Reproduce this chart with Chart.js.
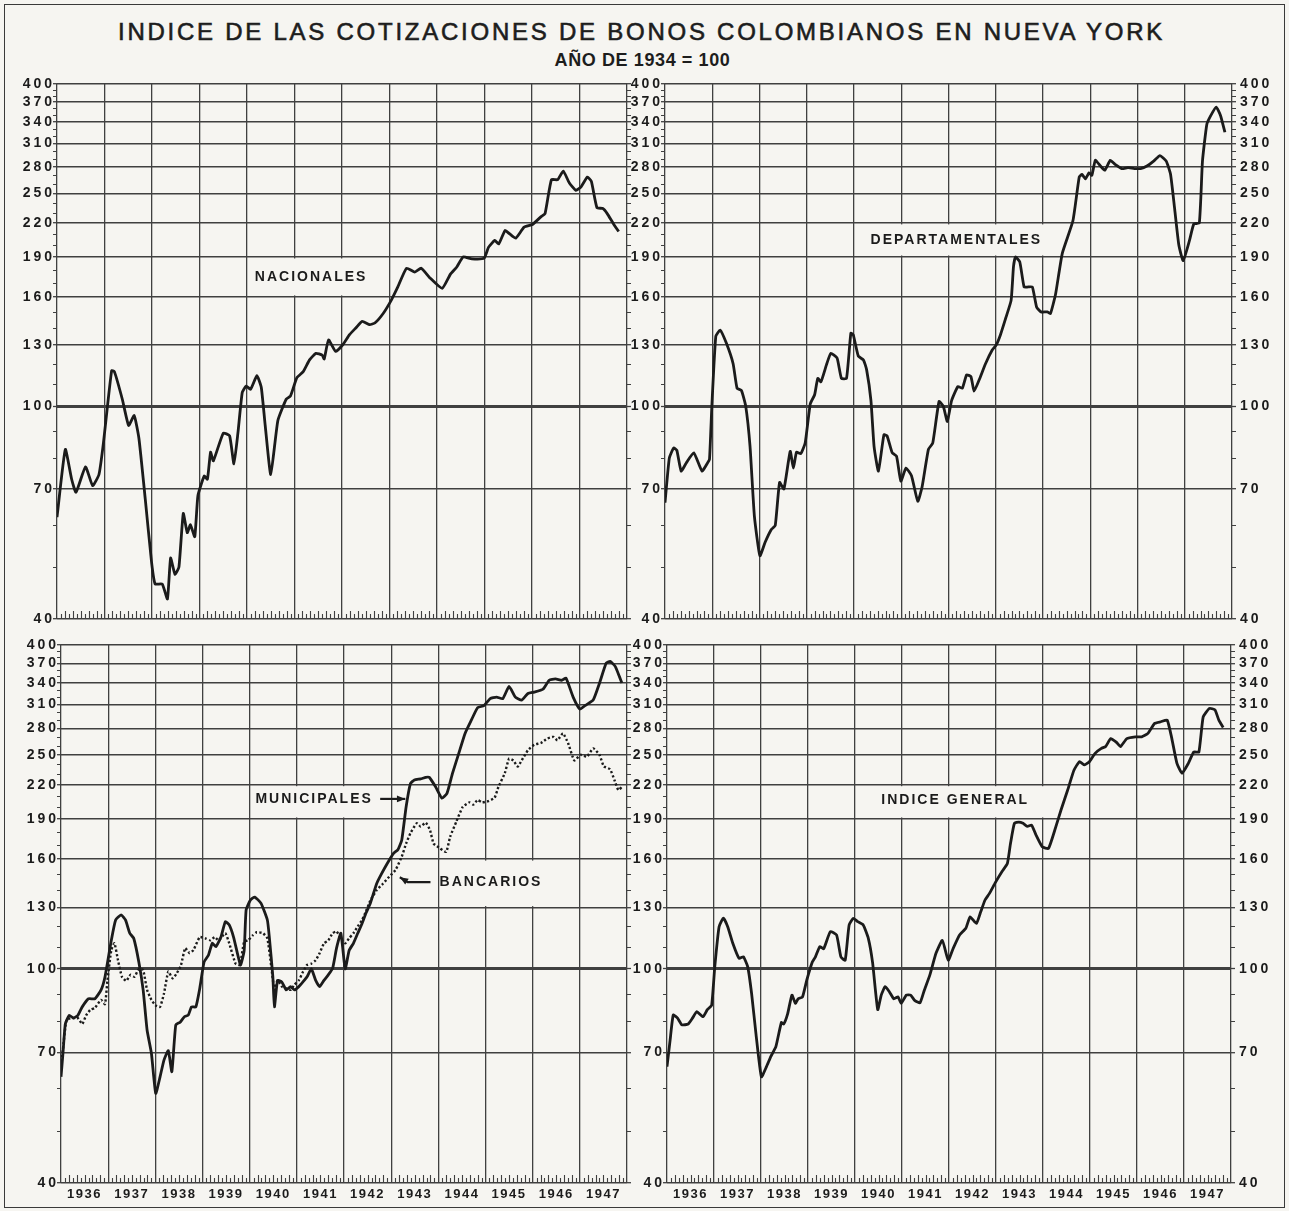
<!DOCTYPE html>
<html lang="es">
<head>
<meta charset="utf-8">
<title>Indice de las cotizaciones de bonos colombianos en Nueva York</title>
<script src="https://cdn.jsdelivr.net/npm/chart.js@4.4.1/dist/chart.umd.min.js"></script>
<style>
  html, body { margin: 0; padding: 0; background: #f6f5f1; }
  #page { position: relative; width: 1289px; height: 1211px; overflow: hidden; font-family: "Liberation Sans", Arial, sans-serif; color: #1d1d1d; }
  #frame { position: absolute; left: 4px; top: 4px; width: 1281px; height: 1204px; border: 1.5px solid #3a3a3a; box-sizing: border-box; }
  #title { position: absolute; left: 0; top: 20px; width: 1283px; text-align: center; font-size: 24px; line-height: 24px; letter-spacing: 2.75px; white-space: nowrap; -webkit-text-stroke: 0.6px #1d1d1d; }
  #subtitle { position: absolute; left: 0; top: 51px; width: 1285px; text-align: center; font-size: 18px; line-height: 18px; font-weight: bold; letter-spacing: 0.6px; white-space: nowrap; }
  canvas { position: absolute; }
</style>
</head>
<body>
<div id="page">
  <div id="frame"></div>
  <div id="title">INDICE DE LAS COTIZACIONES DE BONOS COLOMBIANOS EN NUEVA YORK</div>
  <div id="subtitle">AÑO DE 1934 = 100</div>
  <canvas id="nacChart"></canvas>
  <canvas id="depChart"></canvas>
  <canvas id="munChart"></canvas>
  <canvas id="genChart"></canvas>
</div>
<script>
  const INK = '#1b1b1b';
  const GRID = '#404040';
  const PAPER = '#f6f5f1';

  // log axis, 1934 = 100
  const yTicks = [40, 70, 100, 130, 160, 190, 220, 250, 280, 310, 340, 370, 400];
  const yMinor = [50, 60, 80, 90, 110, 120, 140, 150, 170, 180, 200, 210, 230, 240, 260, 270, 290, 300, 320, 330, 350, 360, 380, 390];
  const yearLabels = ['1936', '1937', '1938', '1939', '1940', '1941', '1942', '1943', '1944', '1945', '1946', '1947'];
  const monthCount = 144; // Jan 1936 .. Dec 1947, x = months since Jan 1936

  // NACIONALES
  const nacMonths = [0, 2.1, 3.7, 4.8, 7.2, 9, 10.6, 11.7, 13.8, 14.5, 16.5, 18.1, 19.5, 20.7, 22.3, 23.9, 24.8, 26.6, 27.9, 28.7,
    29.8, 30.8, 31.9, 32.9, 33.7, 34.8, 35.6, 37.2, 38, 38.8, 39.5, 42, 43.6, 44.7, 45.7, 46.8, 47.8, 48.9, 50.5, 51.6,
    52.6, 54, 55.8, 57.9, 59, 60.6, 62.2, 63.8, 65.4, 67, 67.5, 68.6, 70.4, 72.3, 73.9, 75.5, 77.1, 79, 80.3, 82.4,
    84.5, 86.1, 88.3, 90.4, 92, 94.1, 97.3, 99.4, 101, 102.6, 104.8, 107.9, 109, 110.6, 111.6, 113.2, 114.3, 115.9, 118, 120.1,
    122.3, 123.3, 124.9, 126.5, 127.9, 129.4, 131.1, 132.4, 134, 135, 136.4, 137.9, 139, 140.6, 141.9];
  const nacValues = [62, 83, 73, 69, 77, 71, 74.5, 85, 116.5, 116, 103, 92, 96, 87, 67, 51, 46.5, 46.5, 43.6, 52,
    48.5, 50, 63, 58, 60, 57, 68, 74, 73, 82, 79, 89, 88, 78, 89, 106, 109, 107.5, 114, 108.5,
    92, 74.5, 94, 103, 104.5, 113, 116, 122, 125.5, 124.5, 122.5, 133, 126.5, 130.5, 136, 140, 144, 142, 143, 149,
    158, 167, 181, 178, 181, 174, 166, 176.5, 182, 190, 188.5, 189, 198, 204, 201, 213, 210, 206, 216, 218.5,
    226, 229, 265, 265, 275, 261.5, 253, 257, 268, 263, 235, 234, 229, 219, 212];

  // DEPARTAMENTALES
  const depMonths = [0, 1.1, 2.2, 3, 4.1, 5.4, 7.3, 9.4, 10.8, 11.3, 11.9, 12.9, 14, 15.6, 17.3, 18.3, 19.4, 20.5, 21.6, 22.7,
    24.1, 25.4, 27, 28, 29.1, 30.2, 31.8, 32.6, 33.4, 34.5, 35.6, 36.9, 38, 38.8, 39.6, 41, 42.1, 43.7, 44.8, 46.1,
    47.2, 47.8, 49.1, 50.4, 51.2, 52.3, 53.1, 54.2, 55.6, 56.4, 57.7, 58.8, 59.9, 61.2, 62.6, 64.2, 65.3, 66.9, 68, 69.6,
    70.7, 71.7, 72.8, 74.4, 75.5, 76.6, 77.7, 78.5, 79.8, 81.4, 83.1, 84.1, 85.2, 86.5, 87.9, 88.5, 89, 90.1, 91.2, 92.2,
    93.3, 94.4, 95.5, 97.1, 97.9, 99.2, 100.9, 103.6, 105.2, 105.9, 106.8, 107.7, 108.4, 109.3, 110.6, 111.7, 113.1, 114.3, 116, 117.6,
    119.2, 120.8, 122.4, 124.1, 125.7, 127.3, 128.4, 129.4, 130.5, 131.6, 133.2, 134.3, 135.7, 136.5, 137.6, 138.6, 140, 141.1, 142.2];
  const depValues = [66, 80, 83.5, 82.7, 75.6, 78.3, 81.8, 75.6, 78.3, 79.5, 100, 135, 138.7, 131, 120, 108, 107, 100, 84, 62.3,
    52.5, 55.6, 58.8, 59.8, 72, 70, 82.3, 76.6, 82, 81.5, 85.3, 101, 105, 112.7, 111, 119.4, 125.5, 123, 112.7, 112.7,
    136.8, 136, 124, 122, 117, 102.5, 84, 75.6, 88.4, 88, 81.8, 80.6, 72.4, 76.6, 74.1, 66.4, 70.7, 83, 85.3, 102,
    99.8, 93.6, 102.5, 108.8, 108, 114.4, 113.5, 106.6, 112, 120, 127.3, 130, 136, 145.8, 157.6, 182, 190, 186, 167, 167,
    167, 153, 150, 150, 149, 162, 193, 222, 268, 271, 266, 273, 270, 288, 281, 276, 288, 283, 278, 279,
    278, 278, 281, 287, 294, 287, 271, 235, 200, 187, 204, 219, 220, 287, 336, 349, 362, 349, 325];

  // MUNICIPALES
  const munMonths = [0, 0.5, 1.1, 2.1, 3.2, 4.3, 5.4, 7, 8.6, 10.2, 11.2, 12.8, 13.9, 15.3, 16.4, 17.5, 18.5, 19.8, 20.9, 21.9,
    23, 24.1, 25.2, 26.2, 27.3, 28.2, 29.2, 30.3, 31.4, 32.4, 33.2, 34.3, 35.3, 36.4, 37.5, 38.5, 39.4, 40.7, 41.8, 42.8,
    43.9, 45, 45.7, 46.6, 47.1, 48.2, 49.3, 50.9, 52.5, 53, 53.9, 54.3, 55.1, 56.2, 57.3, 58.4, 59.4, 60.5, 61.6, 62.6,
    63.7, 64.8, 65.8, 66.9, 68, 69.1, 70.1, 71.2, 72.3, 73.3, 74.4, 75.5, 76.6, 77.6, 78.7, 80.3, 81.4, 83, 84.6, 85.7,
    86.7, 87.8, 88.9, 89.9, 91.5, 92.8, 93.7, 95.3, 96.9, 98.2, 99.6, 101.2, 102.8, 104.4, 106, 107.6, 109.2, 110.8, 112.4, 114,
    115.6, 117.2, 118.8, 120.4, 122.6, 124.2, 125.8, 127.4, 128.5, 130.3, 132, 133.3, 135.4, 137, 138.7, 139.7, 141, 142.1, 142.7];
  const munValues = [63, 69.7, 79, 82, 81, 82, 85, 88, 88, 91.4, 96.7, 113, 123.3, 126, 123.3, 116.5, 114, 103, 91.4, 77,
    69.7, 58.7, 63, 67.7, 70.5, 64.4, 78.7, 79.6, 81.5, 82.1, 85, 85, 92, 103, 106, 111.6, 110, 114.6, 122.4, 120.7,
    114.6, 106, 101.7, 108.2, 128.7, 134.3, 136, 132.4, 123.3, 114.6, 96.7, 85, 95.2, 94.5, 91.4, 92.7, 91.4, 92.7, 94.7, 96.7,
    100, 95.2, 92.7, 95.2, 97.5, 100.2, 109.3, 116.5, 100, 108.2, 111.6, 116.5, 121.5, 127, 132.4, 144, 149.5, 157, 164, 166.5,
    173.7, 200, 221, 224.5, 225.5, 227, 227, 218, 207.6, 212, 231, 251.6, 274, 290, 306, 308.5, 318, 320, 318, 335,
    320, 316, 325, 327, 331, 344, 346, 344, 347, 320, 304, 308.5, 316, 339.6, 370, 373, 365, 349, 340];

  // BANCARIOS
  const banMonths = [0, 0.5, 1.4, 2.7, 4.3, 5.4, 6.4, 7.5, 8.6, 10.2, 11.2, 11.8, 12.8, 13.6, 14.5, 15.5, 16.6, 17.7, 18.7, 19.8, 20.9,
    21.9, 23, 24.1, 25.2, 26.2, 27.3, 28.4, 29.4, 30.5, 31.6, 32.7, 33.7, 35.3, 36.7, 38, 39.1, 40.1, 41.8, 42.8, 44.4,
    45.5, 46.6, 47.6, 48.7, 49.8, 51.4, 52.5, 53.5, 54.3, 55.1, 56.2, 57.3, 58.4, 59.4, 60.5, 61.6, 62.6, 63.7, 64.8, 65.8,
    66.9, 68, 69.1, 70.1, 71.2, 72.3, 73.3, 74.4, 75.5, 76.6, 77.6, 78.7, 80.3, 81.9, 83.5, 85.1, 86.7, 87.8, 88.9, 90.5,
    91.5, 92.8, 93.9, 94.8, 96.4, 98, 99, 100.6, 102.2, 103.9, 104.9, 106, 107.1, 108.7, 110.3, 111.3, 112.9, 114, 115.1, 116.2,
    117.2, 118.8, 120.4, 122.1, 123.7, 125.3, 126.3, 127.7, 129, 130.6, 132.2, 133.8, 135.4, 137, 138.1, 139.7, 140.8, 141.8, 142.7];
  const banValues = [66, 71, 80.4, 81, 81, 79, 82, 84, 84.6, 87.6, 86, 95, 108.4, 111.6, 103.8, 96.7, 95, 97.5, 96.7, 100, 99.5,
    91.4, 87.6, 85.5, 85, 90, 98.9, 96, 98, 101.5, 109.3, 107, 108.4, 114.6, 114, 113, 114.6, 113, 116.5, 111.6, 102.3,
    101.7, 112.4, 113, 115.3, 117, 116.5, 114, 101, 91.4, 95.2, 92.7, 92, 91.4, 93.5, 95.2, 98.9, 101.7, 102.3, 103.8, 107,
    111.6, 113, 116.5, 117.4, 114, 111.6, 114, 116.5, 120, 123.3, 128, 134, 140, 144, 148.4, 152.7, 161.7, 171, 178.7, 186.5,
    184, 187, 181, 171, 167.6, 165, 176, 188, 200, 204, 202, 206, 204, 205, 208, 218, 231, 246, 244, 237.7,
    244, 255, 261, 263, 268, 270, 266, 274, 263, 244, 250, 248, 257, 250, 238, 235, 224.5, 215, 218];

  // INDICE GENERAL
  const genMonths = [0, 0.8, 1.6, 2.7, 3.8, 5.4, 6.5, 7.6, 9.2, 10.3, 11.4, 12.2, 13.3, 14.4, 15.5, 16.8, 18.4, 19.5, 20.6, 21.6,
    22.7, 24.1, 25.4, 26.5, 27.8, 29.2, 29.8, 30.8, 31.9, 32.8, 33.5, 34.6, 35.7, 37.1, 37.9, 39, 40, 41.7, 43.3, 44.4,
    45.5, 46.5, 47.6, 48.7, 50.1, 51.4, 52.5, 53.8, 54.7, 55.7, 56.8, 57.9, 59, 59.8, 61.1, 62.2, 63.3, 64.6, 65.7, 67.1,
    68.7, 70.3, 71.8, 73.1, 74.7, 76.3, 77.4, 79, 80.1, 81.2, 82.3, 83.9, 85.5, 86.9, 87.7, 88.7, 89.8, 90.9, 92, 93.1,
    94.2, 95.8, 97.4, 99, 100.6, 102.3, 103.9, 105.3, 106.6, 107.9, 109.3, 110.9, 112, 113.3, 114.7, 115.8, 117.4, 119.6, 121.2, 122.8,
    124.5, 126.1, 127.7, 128.8, 130.2, 131.5, 133.1, 134.5, 135.8, 136.9, 138.5, 139.9, 140.9, 142];
  const genValues = [65.8, 73.8, 82.1, 81, 78.7, 79, 81, 83.3, 81.5, 84, 85.6, 101, 119.8, 124.2, 119.8, 111.6, 104.6, 105.3, 101, 90,
    75.9, 63, 65.8, 68.7, 71.7, 79.5, 79, 82.5, 89.4, 86.3, 88, 88.7, 95.4, 103, 105.3, 110, 109, 117.3, 115.6, 105.3,
    103.8, 120.7, 124.2, 122.4, 120.7, 114, 102.6, 84, 89.4, 92.7, 90.6, 88, 88.7, 86.3, 89.4, 89.4, 87.3, 86.5, 91.3, 97.4,
    107, 113, 103.8, 109.3, 115.6, 119, 125, 121.5, 127.7, 134.3, 138, 145, 151.6, 157, 171, 186.5, 187.5, 186.5, 184, 185,
    177.5, 168.7, 167.5, 181, 197.4, 215, 234, 242.8, 239.5, 243, 251.6, 257, 259, 268, 264, 259, 268, 270, 270, 274,
    286, 288, 290, 270, 241, 231, 241, 253, 253, 294, 305, 303, 290, 281];

  Chart.defaults.font.family = '"Liberation Sans", Arial, sans-serif';
  Chart.defaults.color = INK;

  // month ticks, minor value ticks and the boxed labels
  const ledger = {
    id: 'ledger',
    beforeDraw(chart) {
      chart.ctx.letterSpacing = '1.5px';
    },
    afterLayout(chart) {
      // wider spacing on the value labels only
      ['y', 'y2'].forEach(id => {
        const s = chart.scales[id];
        if (!s || s._spaced) return;
        const orig = s.drawLabels.bind(s);
        s.drawLabels = area => {
          const c = s.ctx;
          c.save();
          c.letterSpacing = '3px';
          if (s.position === 'left') c.translate(3, 0);
          orig(area);
          c.restore();
        };
        s._spaced = true;
      });
    },
    beforeDatasetsDraw(chart, args, opts) {
      const ctx = chart.ctx;
      const xs = chart.scales.x, ys = chart.scales.y;
      const px = m => xs.getPixelForValue(m);
      const py = v => ys.getPixelForValue(v);
      const { left, right, bottom } = chart.chartArea;
      ctx.save();
      ctx.strokeStyle = GRID;
      ctx.lineWidth = 1.1;
      ctx.beginPath();
      for (let m = 1; m < monthCount; m++) {
        if (m % 12 === 0) continue;
        const len = m % 2 === 0 ? 8 : 5;
        const X = Math.round(px(m)) + 0.5;
        ctx.moveTo(X, bottom);
        ctx.lineTo(X, bottom - len);
      }
      yMinor.forEach(v => {
        const Y = Math.round(py(v)) + 0.5;
        ctx.moveTo(left - 4, Y); ctx.lineTo(left, Y);
        ctx.moveTo(right, Y); ctx.lineTo(right + 4, Y);
      });
      ctx.stroke();

      (opts.notes || []).forEach(n => {
        if (n.box) {
          const [m0, m1, v0, v1] = n.box;
          ctx.fillStyle = PAPER;
          ctx.fillRect(px(m0) + 1.5, py(v1) + 1.5, px(m1) - px(m0) - 3, py(v0) - py(v1) - 3);
        }
        ctx.fillStyle = INK;
        ctx.font = 'bold 14px "Liberation Sans", Arial, sans-serif';
        ctx.letterSpacing = '2px';
        ctx.textAlign = 'center';
        ctx.textBaseline = 'middle';
        ctx.fillText(n.text, px(n.at[0]), py(n.at[1]));
        if (n.arrow) {
          const pts = n.arrow.map(([m, v]) => [px(m), py(v)]);
          ctx.strokeStyle = INK;
          ctx.lineWidth = 2.2;
          ctx.beginPath();
          pts.forEach(([X, Y], i) => i ? ctx.lineTo(X, Y) : ctx.moveTo(X, Y));
          ctx.stroke();
          const [x1, y1] = pts[pts.length - 1];
          const [x0, y0] = pts[pts.length - 2];
          const a = Math.atan2(y1 - y0, x1 - x0);
          ctx.beginPath();
          ctx.moveTo(x1, y1);
          ctx.lineTo(x1 - 9 * Math.cos(a - 0.38), y1 - 9 * Math.sin(a - 0.38));
          ctx.lineTo(x1 - 9 * Math.cos(a + 0.38), y1 - 9 * Math.sin(a + 0.38));
          ctx.closePath();
          ctx.fill();
        }
      });
      ctx.restore();
    }
  };

  const panels = [
    { id: 'nacChart', left: 57, top: 84, right: 627, bottom: 619, leftLabels: true, rightLabels: false, yearLabels: false,
      series: [{ months: nacMonths, values: nacValues }],
      notes: [{ box: [48, 84, 160, 190], text: 'NACIONALES', at: [64.2, 174] }] },
    { id: 'depChart', left: 665, top: 84, right: 1232, bottom: 619, leftLabels: true, rightLabels: true, yearLabels: false,
      series: [{ months: depMonths, values: depValues }],
      notes: [{ box: [48, 100, 190, 220], text: 'DEPARTAMENTALES', at: [74, 204] }] },
    { id: 'munChart', left: 61, top: 645, right: 627, bottom: 1183, leftLabels: true, rightLabels: false, yearLabels: true,
      series: [{ months: munMonths, values: munValues }, { months: banMonths, values: banValues, dotted: true }],
      notes: [
        { box: [48, 84, 190, 220], text: 'MUNICIPALES', at: [64.4, 207], arrow: [[81.2, 207], [87.6, 207]] },
        { box: [96, 126, 130, 160], text: 'BANCARIOS', at: [109.4, 145], arrow: [[94, 145], [88.2, 145], [86.2, 148]] }
      ] },
    { id: 'genChart', left: 667, top: 645, right: 1231, bottom: 1183, leftLabels: true, rightLabels: true, yearLabels: true,
      series: [{ months: genMonths, values: genValues }],
      notes: [{ box: [48, 99, 190, 220], text: 'INDICE GENERAL', at: [73.6, 206] }] }
  ];

  function yAxis(pos, show) {
    return {
      type: 'logarithmic', position: pos, min: 40, max: 400,
      afterFit: s => { s.width = 60; },
      afterBuildTicks: s => { s.ticks = yTicks.map(v => ({ value: v })); },
      grid: {
        drawOnChartArea: pos === 'left',
        color: GRID,
        lineWidth: c => (c.tick && c.tick.value === 100) ? 3 : 1.4,
        drawTicks: true, tickLength: 4, tickColor: GRID, tickWidth: 1.3
      },
      border: { display: false },
      ticks: { display: show, padding: pos === 'left' ? 1 : 4, color: INK, font: { size: 14, weight: 'bold' }, callback: v => String(v) }
    };
  }

  function makeChart(p) {
    const cv = document.getElementById(p.id);
    const w = p.right - p.left + 120;
    const h = p.bottom - p.top + 50;
    cv.width = w; cv.height = h;
    cv.style.width = w + 'px'; cv.style.height = h + 'px';
    cv.style.left = (p.left - 60) + 'px';
    cv.style.top = (p.top - 20) + 'px';
    return new Chart(cv, {
      type: 'line',
      data: {
        datasets: p.series.map(s => ({
          data: s.months.map((m, i) => ({ x: m, y: s.values[i] })),
          borderColor: INK,
          borderWidth: s.dotted ? 2.4 : 2.8,
          borderDash: s.dotted ? [2.2, 2.2] : [],
          pointRadius: 0,
          tension: 0.15,
          fill: false
        }))
      },
      options: {
        responsive: false,
        animation: false,
        devicePixelRatio: 1,
        layout: { padding: { top: 20, bottom: 0, left: 0, right: 0 } },
        plugins: { legend: { display: false }, tooltip: { enabled: false }, ledger: { notes: p.notes } },
        scales: {
          x: {
            type: 'linear', min: 0, max: monthCount,
            afterFit: s => { s.height = 30; },
            afterBuildTicks: s => {
              const t = [];
              for (let m = 0; m <= monthCount; m += 6) t.push({ value: m });
              s.ticks = t;
            },
            grid: { color: c => (c.tick && c.tick.value % 12 === 0) ? GRID : 'rgba(0,0,0,0)', lineWidth: 1.3, drawTicks: false },
            border: { display: false },
            ticks: {
              display: p.yearLabels, autoSkip: false, maxRotation: 0, padding: 4, color: INK,
              font: { size: 13, weight: 'bold' },
              callback: v => (v % 12 === 6) ? yearLabels[(v - 6) / 12] : ''
            }
          },
          y: yAxis('left', p.leftLabels),
          y2: yAxis('right', p.rightLabels)
        }
      },
      plugins: [ledger]
    });
  }

  panels.forEach(makeChart);
</script>
</body>
</html>
